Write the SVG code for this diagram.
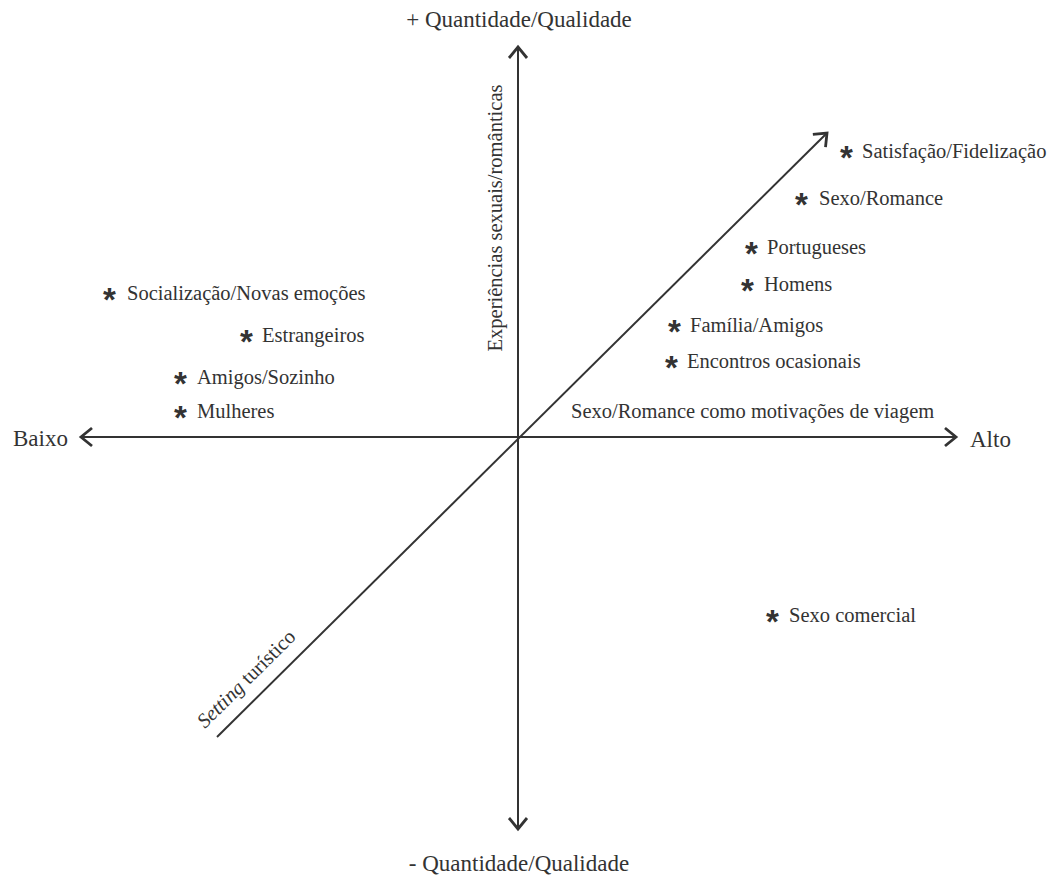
<svg xmlns="http://www.w3.org/2000/svg" width="1049" height="881" viewBox="0 0 1049 881">
<style>
text{font-family:"Liberation Serif","Times New Roman",serif;fill:#333;}
.lbl{font-size:20.5px;}
.big{font-size:23px;}
.ax{stroke:#333;stroke-width:2;fill:none;}
.ast{font-family:"Liberation Sans",Arial,sans-serif;font-weight:bold;font-size:33px;}
</style>
<defs>
<marker id="arr" viewBox="0 0 22 22" refX="18" refY="11" markerWidth="22" markerHeight="22" markerUnits="userSpaceOnUse" orient="auto">
<path d="M7,2 L18,11 L7,20" fill="none" stroke="#333" stroke-width="2.8" stroke-linejoin="miter"/>
</marker>
</defs>
<rect width="1049" height="881" fill="#fff"/>
<g id="connectors">
<line class="ax" x1="518" y1="437" x2="518" y2="47" marker-end="url(#arr)"/>
<line class="ax" x1="518" y1="437" x2="518" y2="829" marker-end="url(#arr)"/>
<line class="ax" x1="518" y1="437" x2="956" y2="437" marker-end="url(#arr)"/>
<line class="ax" x1="518" y1="437" x2="81" y2="437" marker-end="url(#arr)"/>
<line class="ax" x1="217" y1="737" x2="827" y2="133" marker-end="url(#arr)" stroke-width="1.6"/>
</g>
<g id="axis-labels">
<text class="big" x="519" y="27" text-anchor="middle">+ Quantidade/Qualidade</text>
<text class="big" x="519" y="871" text-anchor="middle">- Quantidade/Qualidade</text>
<text class="big" x="13" y="446">Baixo</text>
<text class="big" x="970" y="447">Alto</text>
<text class="lbl" x="571" y="418">Sexo/Romance como motivações de viagem</text>
<text class="lbl" transform="translate(502,218) rotate(-90)" text-anchor="middle">Experiências sexuais/românticas</text>
<text class="lbl" transform="translate(205,729) rotate(-44.7)"><tspan font-style="italic">Setting</tspan> turístico</text>
</g>
<g id="n-satisfacao"><text class="ast" x="840" y="169">*</text><text class="lbl" x="862" y="158">Satisfação/Fidelização</text></g>
<g id="n-sexo-romance"><text class="ast" x="795" y="216">*</text><text class="lbl" x="819" y="205">Sexo/Romance</text></g>
<g id="n-portugueses"><text class="ast" x="745" y="265">*</text><text class="lbl" x="767" y="254">Portugueses</text></g>
<g id="n-homens"><text class="ast" x="741" y="302">*</text><text class="lbl" x="764" y="291">Homens</text></g>
<g id="n-familia"><text class="ast" x="668" y="343">*</text><text class="lbl" x="690" y="332">Família/Amigos</text></g>
<g id="n-encontros"><text class="ast" x="665" y="379">*</text><text class="lbl" x="687" y="368">Encontros ocasionais</text></g>
<g id="n-socializacao"><text class="ast" x="103" y="311">*</text><text class="lbl" x="127" y="300">Socialização/Novas emoções</text></g>
<g id="n-estrangeiros"><text class="ast" x="240" y="353">*</text><text class="lbl" x="262" y="342">Estrangeiros</text></g>
<g id="n-amigos-sozinho"><text class="ast" x="174" y="395">*</text><text class="lbl" x="197" y="384">Amigos/Sozinho</text></g>
<g id="n-mulheres"><text class="ast" x="174" y="429">*</text><text class="lbl" x="197" y="418">Mulheres</text></g>
<g id="n-sexo-comercial"><text class="ast" x="766" y="633">*</text><text class="lbl" x="789" y="622">Sexo comercial</text></g>
</svg>
